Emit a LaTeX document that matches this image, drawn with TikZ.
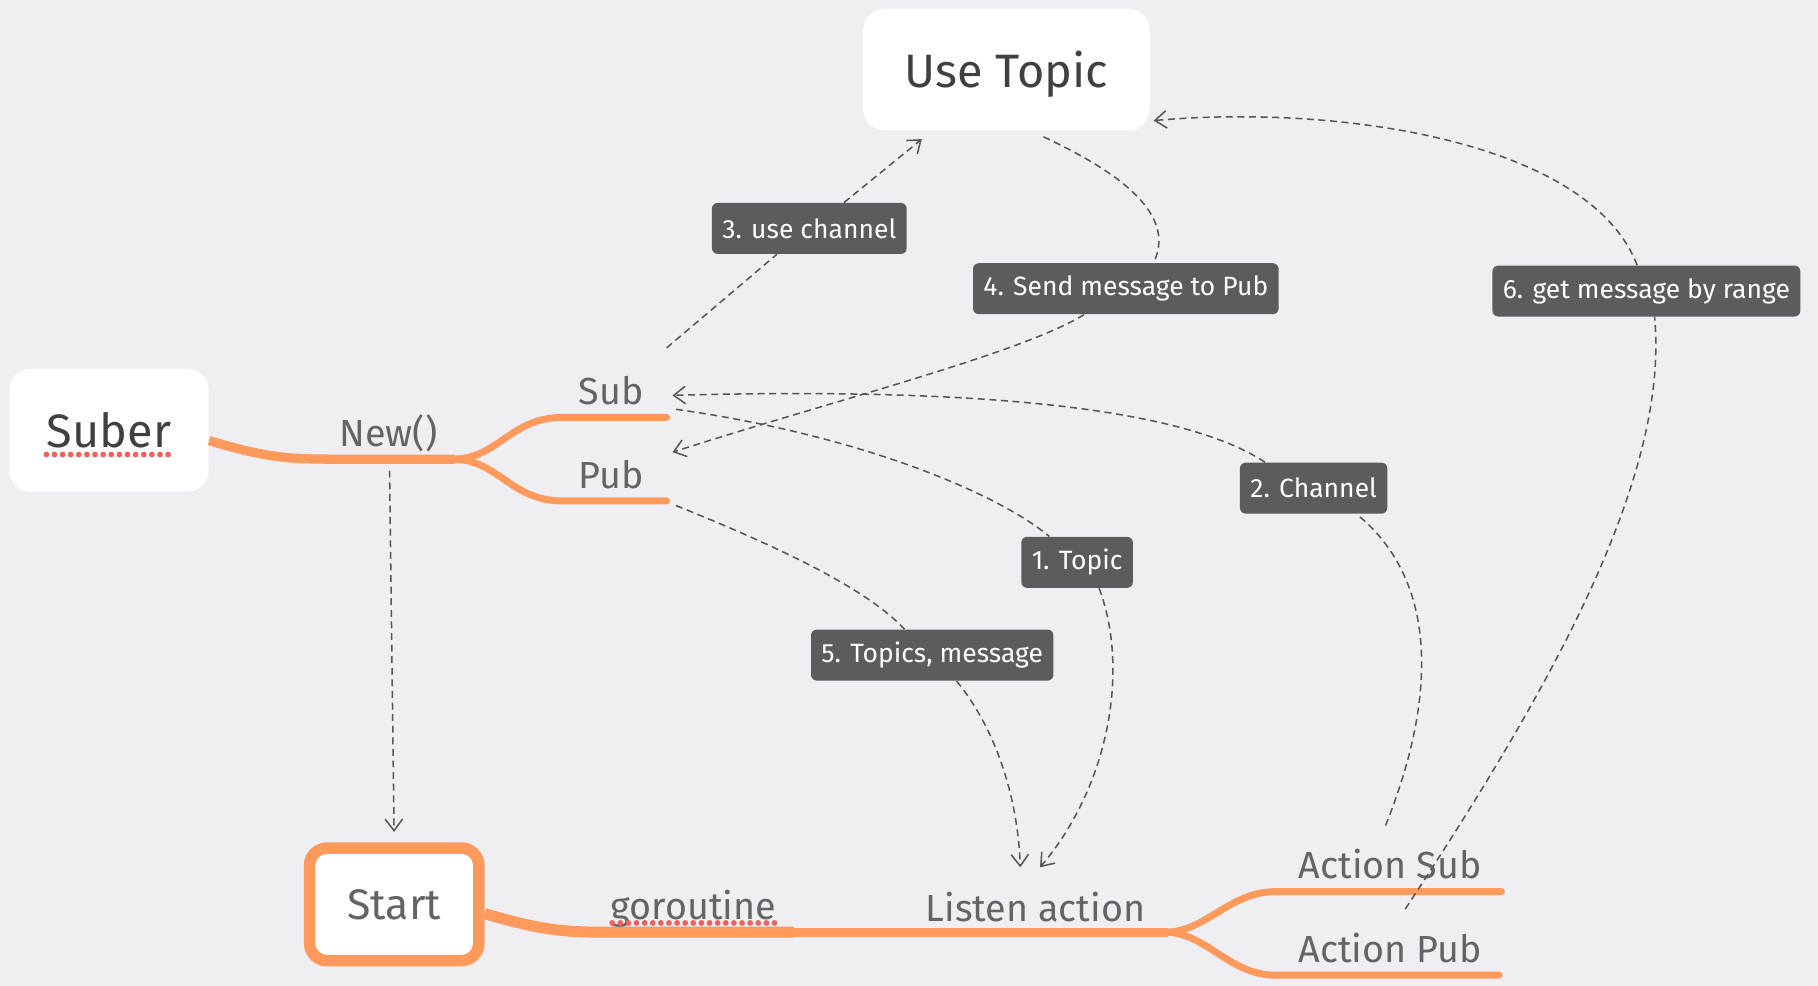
\documentclass[tikz,border=0pt]{standalone}
\usepackage{fontspec}
\setmainfont{Fira Sans}
\usepackage{tikz}
\usetikzlibrary{positioning,arrows.meta}
\definecolor{bgcol}{RGB}{238,238,243}
\definecolor{mmorange}{RGB}{255,153,92}
\definecolor{tagcol}{RGB}{92,92,92}
\definecolor{txtcol}{RGB}{100,100,100}
\definecolor{darktxt}{RGB}{64,64,64}
\definecolor{relcol}{RGB}{85,85,85}
\definecolor{wavy}{RGB}{240,96,96}
\tikzset{
  topic/.style={rectangle, rounded corners=0.36cm, fill=white, text=darktxt, font=\fontsize{23}{26}\selectfont, text depth=0pt, minimum width=4.94cm, minimum height=2.1cm},
  startbox/.style={rectangle, rounded corners=0.3cm, draw=mmorange, line width=0.2cm, fill=white, text=txtcol, font=\fontsize{21}{24}\selectfont, minimum width=2.92cm, minimum height=1.94cm},
  branch/.style={anchor=base, text=txtcol, font=\fontsize{18.5}{22}\selectfont, inner sep=0pt},
  tag/.style={rectangle, rounded corners=0.1cm, fill=tagcol, text=white, font=\fontsize{13}{15}\selectfont, minimum height=0.88cm, inner xsep=0.18cm},
  trunk/.style={draw=mmorange, line width=0.16cm, line cap=butt},
  twig/.style={draw=mmorange, line width=0.12cm, line cap=round},
  rel/.style={draw=relcol, line width=0.026cm, dash pattern=on 0.12cm off 0.08cm},
  relto/.style={rel, -{Straight Barb[length=0.2cm, width=0.3cm]}},
  spell/.style={draw=wavy, line width=0.1cm, line cap=round, dash pattern=on 0pt off 0.14cm},
}

\begin{document}
\begin{tikzpicture}[x=0.02cm, y=-0.02cm]
  \fill[bgcol] (0,0) rectangle (1568,850);
  \useasboundingbox (0,0) rectangle (1568,850);

  \node[topic] (usetopic) at (868,60) {Use Topic};
  \node[topic, minimum width=3.44cm, minimum height=2.12cm] (suber) at (94,371) {Suber};
  \node[startbox] (start) at (340,780) {Start};

  \node[branch] (new) at (335,385) {New()};
  \node[branch] (sub) at (527,349) {Sub};
  \node[branch] (pub) at (527,421) {Pub};
  \node[branch] (goroutine) at (598,793) {goroutine};
  \node[branch] (listen) at (893,795) {Listen action};
  \node[branch] (asub) at (1199,758) {Action Sub};
  \node[branch] (apub) at (1199,830) {Action Pub};

  \coordinate (fork1) at (390,396);
  \coordinate (fork2) at (1005,804);
  \coordinate (subend) at (575,360);
  \coordinate (pubend) at (575,432);
  \coordinate (asubend) at (1295,769);
  \coordinate (apubend) at (1293,841);

  % mind map branches
  \draw[trunk] ([yshift=-0.18cm]suber.east) .. controls (230,395) and (250,396) .. (290,396) -- ([xshift=0.05cm]fork1);
  \draw[twig] (fork1) .. controls (430,396) and (440,360) .. (485,360) -- (subend);
  \draw[twig] (fork1) .. controls (430,396) and (440,432) .. (485,432) -- (pubend);
  \draw[trunk, line width=0.19cm] ([yshift=-0.16cm]start.east) .. controls (460,800) and (480,804) .. (520,804) -- (685,804);
  \draw[trunk, line width=0.15cm] (685,804) -- ([xshift=0.05cm]fork2);
  \draw[twig] (fork2) .. controls (1040,804) and (1060,769) .. (1100,769) -- (asubend);
  \draw[twig] (fork2) .. controls (1040,804) and (1060,841) .. (1100,841) -- (apubend);

  \draw[spell] (40,392) -- (148,392);
  \draw[spell] (528,796) -- (670,796);

  \node[tag] (tag3) at (698,197) {3. use channel};
  \node[tag] (tag4) at (971,249) {4. Send message to Pub};
  \node[tag] (tag6) at (1420,251) {6. get message by range};
  \node[tag] (tag2) at (1133,421) {2. Channel};
  \node[tag] (tag1) at (929,485) {1. Topic};
  \node[tag] (tag5) at (804,565) {5. Topics, message};

  \coordinate (newfoot) at (336,406);
  \coordinate (subtop) at (575,300);
  \coordinate (subtail) at (583,353);
  \coordinate (subin) at (580,341);
  \coordinate (pubtail) at (583,436);
  \coordinate (pubin) at (580,390);
  \coordinate (topicin1) at (795,120);
  \coordinate (topicin2) at (995,104);
  \coordinate (topicfoot) at (900,118);
  \coordinate (listenin1) at (880,748);
  \coordinate (listenin2) at (897,748);
  \coordinate (asubfoot) at (1195,712);
  \coordinate (apubfoot) at (1212,784);

  \draw[relto, shorten >=0.18cm] (newfoot) -- (start.north);

  \draw[rel] (subtail) .. controls (740,375) and (860,425) .. ([xshift=-0.48cm]tag1.north);
  \draw[relto] ([xshift=0.38cm]tag1.south) .. controls (975,580) and (955,680) .. (listenin2);

  \draw[rel] (asubfoot) .. controls (1240,600) and (1240,500) .. ([xshift=0.74cm]tag2.south);
  \draw[relto] ([xshift=-0.84cm]tag2.north) .. controls (1010,345) and (800,335) .. (subin);

  \draw[rel] (subtop) -- ([xshift=-0.56cm]tag3.south);
  \draw[relto] ([xshift=0.6cm]tag3.north) -- (topicin1);

  \draw[rel] (topicfoot) .. controls (990,160) and (1010,195) .. ([xshift=0.48cm]tag4.north);
  \draw[relto] ([xshift=-0.72cm]tag4.south) .. controls (880,305) and (720,345) .. (pubin);

  \draw[rel] (pubtail) .. controls (680,475) and (750,510) .. ([xshift=-0.48cm]tag5.north);
  \draw[relto] ([xshift=0.42cm]tag5.south) .. controls (860,630) and (878,690) .. (listenin1);

  \draw[rel] (apubfoot) .. controls (1340,590) and (1440,410) .. ([xshift=0.14cm]tag6.south);
  \draw[relto] ([xshift=-0.16cm]tag6.north) .. controls (1370,120) and (1150,90) .. (topicin2);

\end{tikzpicture}
\end{document}
